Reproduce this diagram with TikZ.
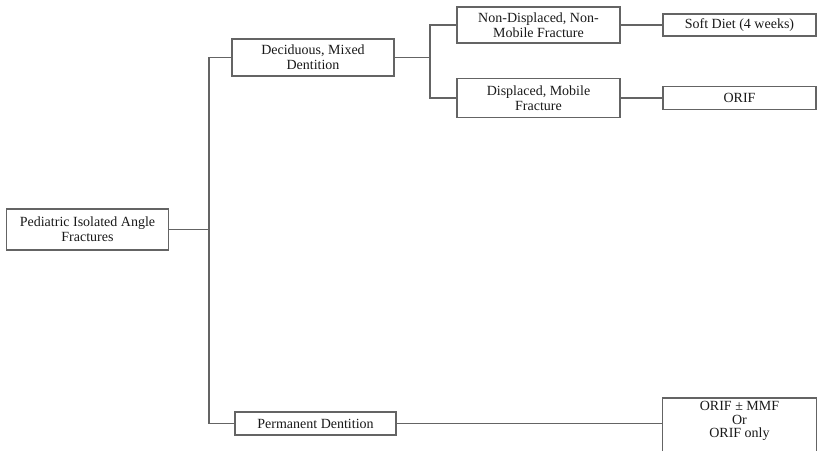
\documentclass[tikz,border=0pt]{standalone}
\usepackage{fontspec}
\setmainfont{Liberation Serif}
\definecolor{linegray}{RGB}{100,100,100}
\definecolor{textgray}{RGB}{25,25,25}
\begin{document}
\begin{tikzpicture}[x=1pt,y=-1pt,
  box/.style={draw=linegray, line width=1.2pt, align=center, inner sep=0pt,
    font=\fontsize{14}{15}\selectfont, text=textgray},
  conn/.style={draw=linegray, line width=1.2pt}]
\useasboundingbox (0,0) rectangle (817,451);
\node[box, minimum width=162pt, minimum height=41pt] (ped) at (87.5,229.5) {Pediatric Isolated Angle\\Fractures};
\node[box, minimum width=162pt, minimum height=37pt] (dec) at (313,57.5) {Deciduous, Mixed\\Dentition};
\node[box, minimum width=161pt, minimum height=23pt] (perm) at (315.5,423.5) {Permanent Dentition};
\node[box, minimum width=163pt, minimum height=36pt] (nondisp) at (538.5,25) {Non-Displaced, Non-\\Mobile Fracture};
\node[box, minimum width=163pt, minimum height=39pt] (disp) at (538.5,98) {Displaced, Mobile\\Fracture};
\node[box, minimum width=153pt, minimum height=22pt] (soft) at (739.5,25) {Soft Diet (4 weeks)};
\node[box, minimum width=153pt, minimum height=23pt] (orif) at (739.5,98) {ORIF};
\node[box, draw=none, anchor=north, minimum width=153pt, inner sep=3pt,
  font=\fontsize{14}{13.5}\selectfont] (mmf) at (739.5,398) {ORIF ± MMF\\Or\\ORIF only};
\coordinate (bot) at (0,451);
\draw[conn] (mmf.north west |- bot) -- (mmf.north west) -- (mmf.north east) -- (mmf.north east |- bot);
\coordinate (j1) at (209,229.5);
\coordinate (j2) at (430,57.5);
\draw[conn] (ped.east) -- (j1);
\draw[conn] (dec.west) -| (j1) |- (perm.west);
\draw[conn] (dec.east) -- (j2);
\draw[conn] (nondisp.west) -| (j2) |- (disp.west);
\draw[conn] (nondisp.east) -- (soft.west);
\draw[conn] (disp.east) -- (orif.west);
\draw[conn] (perm.east) -- (perm.east -| mmf.west);
\end{tikzpicture}
\end{document}
